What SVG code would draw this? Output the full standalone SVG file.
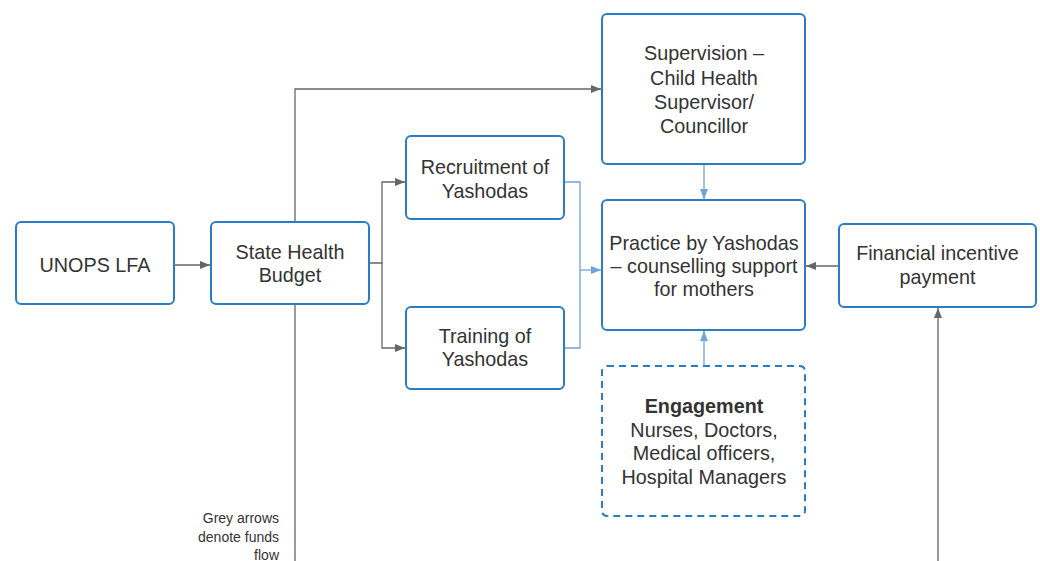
<svg xmlns="http://www.w3.org/2000/svg" width="1040" height="561" viewBox="0 0 1040 561">
<style>
.box{fill:#fff;stroke:#2a7cc6;stroke-width:2}
.dash{fill:#fff;stroke:#2a7cc6;stroke-width:2;stroke-dasharray:7 5}
.t{font-family:"Liberation Sans",Arial,sans-serif;font-size:19.8px;fill:#333;text-anchor:middle}
.b{font-weight:bold}
.cap{font-family:"Liberation Sans",Arial,sans-serif;font-size:14px;fill:#333;text-anchor:end}
.g{fill:none;stroke:#666;stroke-width:1.3}
.bl{fill:none;stroke:#6fa3dc;stroke-width:1.3}
</style>
<defs>
<marker id="ag" viewBox="0 0 10 10" refX="10" refY="5" markerWidth="10" markerHeight="10" markerUnits="userSpaceOnUse" orient="auto"><path d="M0,1 L10,5 L0,9 Z" fill="#666"/></marker>
<marker id="ab" viewBox="0 0 10 10" refX="10" refY="5" markerWidth="10" markerHeight="10" markerUnits="userSpaceOnUse" orient="auto"><path d="M0,1 L10,5 L0,9 Z" fill="#6fa3dc"/></marker>
</defs>
<g id="connectors">
<path class="g" d="M174,265 H210" marker-end="url(#ag)"/>
<path class="g" d="M295,222 V89 H601" marker-end="url(#ag)"/>
<path class="g" d="M295,304 V561"/>
<path class="g" d="M369,263 H382 V182 H405" marker-end="url(#ag)"/>
<path class="g" d="M382,263 V348 H405" marker-end="url(#ag)"/>
<path class="bl" d="M564,182 H580 V348 H564"/>
<path class="bl" d="M580,270 H601" marker-end="url(#ab)"/>
<path class="bl" d="M704,165 V199" marker-end="url(#ab)"/>
<path class="bl" d="M704,366 V331" marker-end="url(#ab)"/>
<path class="g" d="M839,266 H806" marker-end="url(#ag)"/>
<path class="g" d="M938,561 V308" marker-end="url(#ag)"/>
</g>
<g id="unops">
<rect class="box" x="16" y="222" width="158" height="82" rx="5"/>
<text class="t" x="95" y="272">UNOPS LFA</text>
</g>
<g id="state">
<rect class="box" x="211" y="222" width="158" height="82" rx="5"/>
<text class="t" x="290" y="259">State Health</text>
<text class="t" x="290" y="282">Budget</text>
</g>
<g id="recruitment">
<rect class="box" x="406" y="136" width="158" height="83" rx="5"/>
<text class="t" x="485" y="174">Recruitment of</text>
<text class="t" x="485" y="198">Yashodas</text>
</g>
<g id="training">
<rect class="box" x="406" y="307" width="158" height="82" rx="5"/>
<text class="t" x="485" y="343">Training of</text>
<text class="t" x="485" y="366">Yashodas</text>
</g>
<g id="supervision">
<rect class="box" x="602" y="14" width="203" height="150" rx="5"/>
<text class="t" x="704" y="60">Supervision –</text>
<text class="t" x="704" y="85">Child Health</text>
<text class="t" x="704" y="109">Supervisor/</text>
<text class="t" x="704" y="133">Councillor</text>
</g>
<g id="practice">
<rect class="box" x="602" y="200" width="203" height="130" rx="5"/>
<text class="t" x="704" y="250">Practice by Yashodas</text>
<text class="t" x="704" y="273">– counselling support</text>
<text class="t" x="704" y="296">for mothers</text>
</g>
<g id="financial">
<rect class="box" x="839" y="224" width="197" height="83" rx="5"/>
<text class="t" x="937.5" y="260">Financial incentive</text>
<text class="t" x="937.5" y="284">payment</text>
</g>
<g id="engagement">
<rect class="dash" x="602" y="366" width="203" height="150" rx="5"/>
<text class="t b" x="704" y="413">Engagement</text>
<text class="t" x="704" y="437">Nurses, Doctors,</text>
<text class="t" x="704" y="460">Medical officers,</text>
<text class="t" x="704" y="484">Hospital Managers</text>
</g>
<g id="caption">
<text class="cap" x="279" y="523">Grey arrows</text>
<text class="cap" x="279" y="541.5">denote funds</text>
<text class="cap" x="279" y="560">flow</text>
</g>
</svg>
